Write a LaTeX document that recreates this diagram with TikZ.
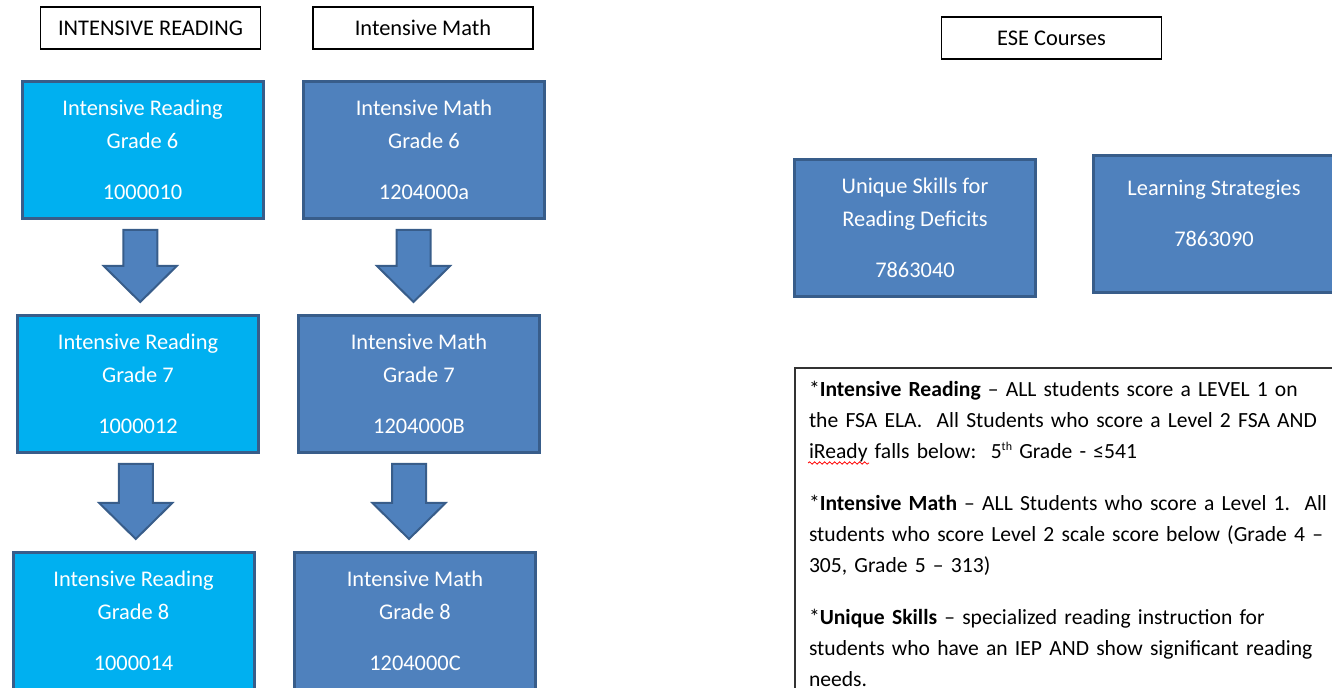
\documentclass[tikz,border=0pt]{standalone}
\usepackage{fontspec}
\setmainfont{Carlito}
\usetikzlibrary{calc,decorations.pathmorphing}
\definecolor{readblue}{HTML}{00B0F0}
\definecolor{mathblue}{HTML}{4F81BD}
\definecolor{edgeblue}{HTML}{385D8A}

% block arrow from one course box down to the next
\newcommand{\blockarrow}[3][0]{%
  \draw[downarrow] let \p1=(#2.south), \p2=(#3.north), \n1={(\x1+\x2)/2+#1} in
    ({\n1*1pt-8.5pt},{\y1-5pt}) -- ({\n1*1pt+8.5pt},{\y1-5pt}) -- ({\n1*1pt+8.5pt},{\y2+24pt})
    -- ({\n1*1pt+18.25pt},{\y2+24pt}) -- ({\n1*1pt},{\y2+6pt}) -- ({\n1*1pt-18.25pt},{\y2+24pt})
    -- ({\n1*1pt-8.5pt},{\y2+24pt}) -- cycle;}

\begin{document}
\begin{tikzpicture}[
    x=0.5pt, y=-0.5pt,
    header/.style={rectangle, draw, line width=0.8pt, minimum width=110pt, minimum height=21pt, inner sep=0pt, font=\fontsize{11.2}{13}\selectfont},
    course/.style={rectangle, draw=edgeblue, line width=1.5pt, minimum width=120.5pt, minimum height=68.5pt, inner sep=0pt, text=white, align=center, font=\fontsize{11.2}{16.5}\selectfont},
    read/.style={course, fill=readblue},
    math/.style={course, fill=mathblue},
    downarrow/.style={fill=mathblue, draw=edgeblue, line width=1pt, line join=miter},
    note/.style={rectangle, draw=black!80, line width=1pt, anchor=north west, inner xsep=7pt, inner ysep=6.5pt, text width=272pt, align=left, font=\fontsize{10.8}{15.5}\selectfont}
]
\useasboundingbox (0,0) rectangle (1332,688);
\clip (0,0) rectangle (1332,688);

% Headers
\node[header] (hread) at (150.5,28) {INTENSIVE READING};
\node[header] (hmath) at (423,28) {Intensive Math};
\node[header] (hese) at (1051.5,38) {ESE Courses};

% Reading column
\node[read] (ir6) at (142.5,150) {Intensive Reading\\Grade 6\\[9pt]1000010};
\node[read] (ir7) at (138,384) {Intensive Reading\\Grade 7\\[9pt]1000012};
\node[read] (ir8) at (133.5,621) {Intensive Reading\\Grade 8\\[9pt]1000014};

% Math column
\node[math] (im6) at (424,150) {Intensive Math\\Grade 6\\[9pt]1204000a};
\node[math] (im7) at (419,384) {Intensive Math\\Grade 7\\[9pt]1204000B};
\node[math] (im8) at (415,621) {Intensive Math\\Grade 8\\[9pt]1204000C};

% Arrows
\blockarrow{ir6}{ir7}
\blockarrow{ir7}{ir8}
\blockarrow[-4]{im6}{im7}
\blockarrow[-4]{im7}{im8}

% ESE courses
\node[math] (unique) at (915,228) {Unique Skills for\\Reading Deficits\\[9pt]7863040};
\node[math] (learn) at (1214,224) {Learning Strategies\\[9pt]7863090\rule[-11pt]{0pt}{11pt}};

% Notes
\node[note] (notes) at (794,367) {%
*\textbf{Intensive Reading} -- ALL students score a LEVEL 1 on\\
the FSA ELA.\ \ All Students who score a Level 2 FSA AND\\
iReady falls below:\ \ 5\raisebox{4pt}{\fontsize{6}{6}\selectfont th} Grade - ≤541\\[10.5pt]
*\textbf{Intensive Math} -- ALL Students who score a Level 1.\ \ All\\
students who score Level 2 scale score below (Grade 4 --\\
305, Grade 5 -- 313)\\[10.5pt]
*\textbf{Unique Skills} -- specialized reading instruction for\\
students who have an IEP AND show significant reading\\
needs.};
\draw[red, decorate, decoration={snake, amplitude=0.6pt, segment length=2.5pt}] (808,463) -- (869,463);

\end{tikzpicture}
\end{document}
